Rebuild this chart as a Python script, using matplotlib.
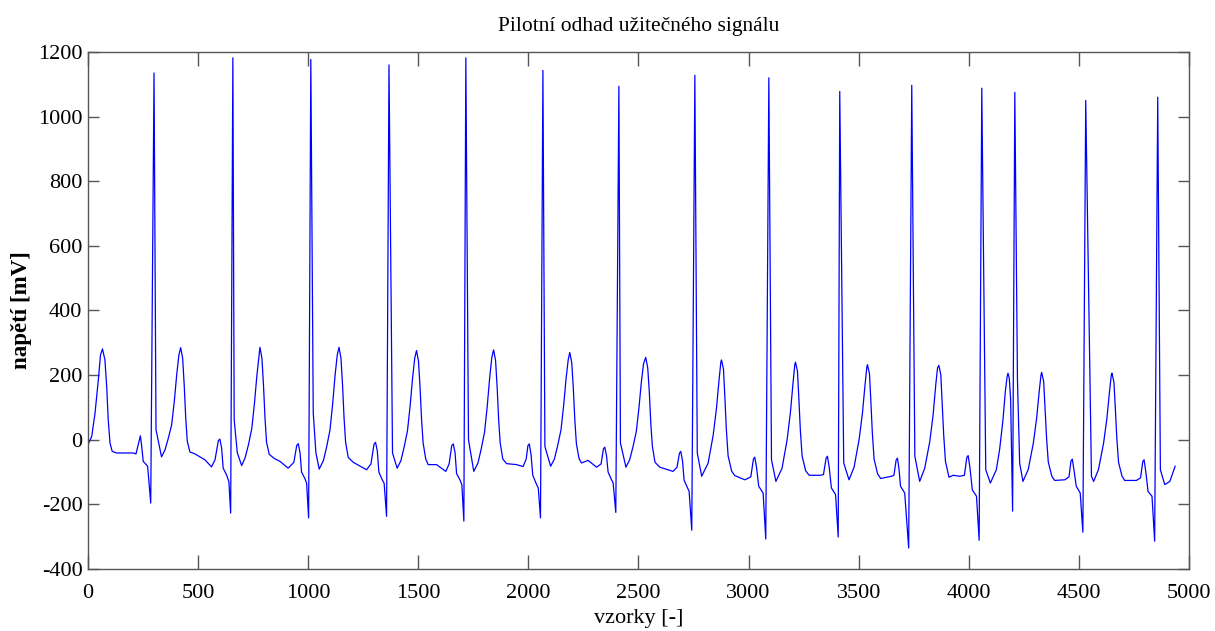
import matplotlib
matplotlib.use("Agg")
import matplotlib.pyplot as plt

# sample index (x) and voltage in mV (y) of the trace vertices
vzorky = [
    0, 17, 32, 47, 57, 66, 77, 85, 92, 100, 110, 130, 206, 218, 230, 238, 244, 251, 271, 285, 300, 309, 334,
    350, 365, 380, 392, 403, 413, 421, 430, 437, 444, 451, 463, 486, 531, 561,
    577, 592, 599, 607, 614, 630, 640, 648, 658, 664, 678, 698,
    714, 729, 744, 756, 767, 777, 781, 790, 797, 804, 811, 823, 846, 872, 909,
    935, 948, 955, 963, 970, 985, 993, 1002, 1012, 1023, 1035, 1050,
    1069, 1084, 1099, 1111, 1122, 1132, 1140, 1149, 1156, 1163, 1170, 1182, 1205, 1265,
    1285, 1299, 1306, 1314, 1321, 1335, 1345, 1356, 1367, 1383, 1404,
    1421, 1436, 1451, 1463, 1474, 1484, 1492, 1501, 1508, 1515, 1522, 1534, 1545, 1583, 1625,
    1640, 1652, 1659, 1667, 1674, 1690, 1698, 1707, 1716, 1728, 1752,
    1771, 1786, 1801, 1813, 1824, 1834, 1842, 1851, 1858, 1865, 1872, 1884, 1901, 1946, 1976,
    1990, 1998, 2004, 2012, 2020, 2035, 2045, 2055, 2066, 2075, 2101,
    2118, 2133, 2148, 2160, 2171, 2181, 2188, 2197, 2204, 2211, 2218, 2230, 2241, 2271, 2310,
    2330, 2341, 2347, 2355, 2362, 2375, 2385, 2397, 2411, 2418, 2443,
    2460, 2475, 2490, 2502, 2513, 2523, 2533, 2542, 2549, 2556, 2563, 2575, 2597, 2657,
    2675, 2686, 2692, 2700, 2707, 2720, 2730, 2742, 2756, 2767, 2787,
    2816, 2839, 2854, 2866, 2874, 2877, 2886, 2892, 2899, 2907, 2923, 2937, 2983,
    3010, 3022, 3028, 3036, 3046, 3066, 3078, 3092, 3104, 3124,
    3152, 3175, 3190, 3202, 3210, 3213, 3222, 3228, 3235, 3243, 3259, 3275, 3323,
    3340, 3352, 3358, 3366, 3376, 3395, 3407, 3414, 3432, 3456,
    3479, 3502, 3517, 3529, 3537, 3540, 3549, 3555, 3562, 3570, 3586, 3600, 3649,
    3660, 3670, 3676, 3683, 3690, 3709, 3727, 3741, 3755, 3777,
    3800, 3823, 3838, 3850, 3858, 3864, 3873, 3879, 3886, 3894, 3910, 3929, 3959,
    3980, 3991, 3997, 4005, 4016, 4035, 4047, 4059, 4077, 4098,
    4125, 4140, 4155, 4166, 4174, 4178, 4184, 4190, 4199, 4209, 4221, 4231, 4246,
    4270, 4293, 4308, 4320, 4328, 4331, 4340, 4346, 4353, 4361, 4377, 4390, 4436,
    4455, 4464, 4470, 4478, 4488, 4506, 4518, 4531, 4557, 4567,
    4589, 4612, 4627, 4639, 4647, 4650, 4659, 4665, 4672, 4680, 4696, 4708, 4761,
    4780, 4790, 4796, 4804, 4814, 4832, 4844, 4858, 4870, 4890, 4913, 4937]
napeti = [
    -15, 10, 82, 185, 263, 281, 247, 165, 62, -10, -36, -41, -41, -44, -10, 12, -20, -67, -82, -196, 1135, 31, -53,
    -31, 5, 46, 118, 201, 263, 285, 252, 170, 67, -5, -38, -44, -62, -84,
    -62, -3, 2, -26, -88, -110, -130, -227, 1182, 62, -40, -80,
    -55, -15, 35, 112, 198, 262, 286, 252, 170, 67, -8, -45, -58, -67, -88,
    -70, -18, -12, -40, -100, -120, -135, -242, 1177, 83, -40, -91,
    -65, -22, 30, 110, 198, 262, 286, 252, 170, 67, -8, -55, -70, -93,
    -75, -14, -8, -35, -100, -122, -135, -237, 1160, -41, -88,
    -65, -22, 28, 105, 190, 253, 276, 243, 163, 62, -10, -60, -77, -77, -98,
    -75, -18, -13, -40, -105, -125, -140, -252, 1182, 0, -98,
    -72, -28, 24, 102, 190, 255, 278, 245, 165, 62, -10, -60, -74, -77, -83,
    -60, -18, -13, -45, -110, -135, -150, -242, 1143, -21, -82,
    -60, -18, 30, 105, 188, 248, 270, 238, 160, 60, -12, -58, -72, -64, -85,
    -75, -28, -23, -50, -100, -120, -134, -225, 1094, -10, -85,
    -62, -22, 25, 98, 178, 235, 255, 222, 150, 50, -20, -70, -85, -98,
    -85, -42, -36, -65, -125, -145, -160, -280, 1128, -41, -113,
    -73, 13, 96, 186, 240, 247, 218, 136, 32, -50, -97, -111, -124,
    -115, -60, -54, -85, -144, -165, -307, 1120, -62, -129,
    -88, 0, 85, 177, 233, 240, 212, 132, 30, -50, -96, -110, -110,
    -108, -57, -51, -85, -149, -170, -301, 1078, -72, -124,
    -85, 1, 82, 171, 225, 232, 204, 123, 21, -60, -106, -120, -113,
    -110, -63, -57, -90, -144, -165, -335, 1097, -51, -129,
    -88, -5, 77, 170, 222, 230, 201, 118, 15, -67, -116, -110, -113,
    -110, -55, -49, -85, -155, -175, -311, 1088, -93, -134,
    -93, -30, 60, 150, 195, 206, 190, 124, -221, 1075, 185, -72, -129,
    -92, -11, 66, 151, 201, 208, 181, 104, 8, -69, -113, -126, -124,
    -115, -66, -60, -95, -144, -165, -286, 1050, -113, -129,
    -92, -11, 65, 149, 199, 206, 179, 103, 7, -70, -113, -126, -126,
    -118, -68, -62, -100, -160, -175, -314, 1060, -93, -139, -129, -82]

x_ticks = [0, 500, 1000, 1500, 2000, 2500, 3000, 3500, 4000, 4500, 5000]
y_ticks = [-400, -200, 0, 200, 400, 600, 800, 1000, 1200]

title = "Pilotní odhad užitečného signálu"
xlabel = "vzorky [-]"
ylabel = "napětí [mV]"

plt.rcParams["font.family"] = ["Liberation Serif", "DejaVu Serif"]
plt.rcParams["axes.unicode_minus"] = False

fig = plt.figure(figsize=(12.15, 6.31), dpi=100)
ax = fig.add_axes([0.0724, 0.0983, 0.9062, 0.8193])
ax.plot(vzorky, napeti, color=(0, 0, 1), linewidth=0.9)

ax.set_xlim(0, 5000)
ax.set_ylim(-400, 1200)
ax.set_xticks(x_ticks)
ax.set_yticks(y_ticks)
ax.tick_params(axis="both", direction="in", top=True, right=True,
               labelsize=16, colors="#555555", labelcolor="black", width=1.0)
ax.tick_params(axis="x", length=10, pad=11)
ax.tick_params(axis="y", length=8, pad=4)
for s in ax.spines.values():
    s.set_color("#555555")
    s.set_linewidth(1.0)

ax.set_title(title, fontsize=15.5, pad=15)
ax.set_xlabel(xlabel, fontsize=16, labelpad=4)
ax.set_ylabel(ylabel, fontsize=16.5, fontweight="bold", labelpad=4)

fig.savefig("out.png", dpi=100)
